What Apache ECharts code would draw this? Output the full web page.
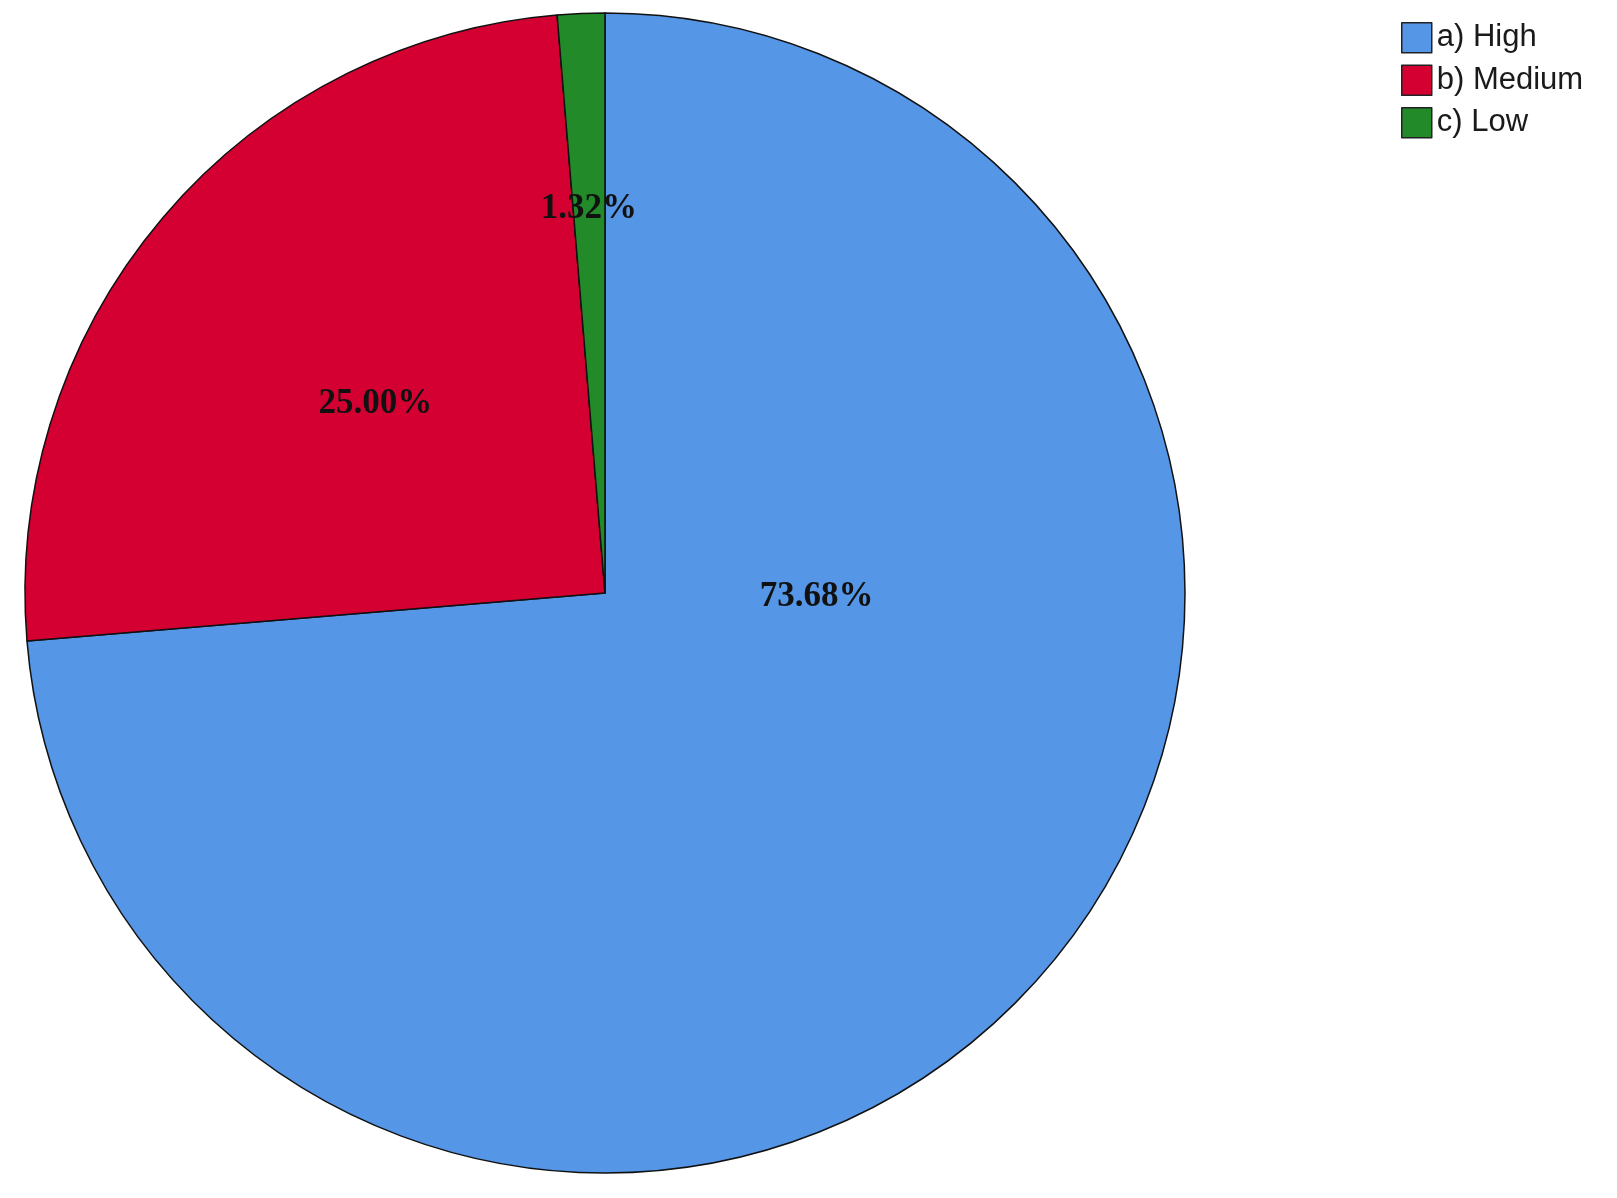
<!DOCTYPE html>
<html>
<head>
<meta charset="utf-8">
<title>Pie</title>
<script src="https://cdn.jsdelivr.net/npm/echarts@6/dist/echarts.min.js"></script>
<style>
	html, body { margin: 0; padding: 0; background: #fff; }
	#chart { width: 1617px; height: 1198px; }
</style>
</head>
<body>
<div id="chart"></div>
<script>
	const categories = ['a) High', 'b) Medium', 'c) Low']
	const values = [56, 19, 1]
	const colors = ['#5596e6', '#d40032', '#238a2a']
	// label nudges so they sit where the original tool put them
	const labelOffsets = [[-4, -194], [-6, 0], [-4, -91]]

	const total = values.reduce((a, b) => a + b, 0)

	const chart = echarts.init(document.getElementById('chart'))

	const option = {
		animation: false,
		legend: {
			orient: 'vertical',
			left: 1396,
			top: 17,
			itemWidth: 30,
			itemHeight: 30,
			itemGap: 11,
			icon: 'rect',
			itemStyle: { borderColor: '#222', borderWidth: 1.5 },
			textStyle: { fontFamily: 'Liberation Sans', fontSize: 31, color: '#1a1a1a' },
			data: categories
		},
		series: [
			{
				type: 'pie',
				center: [605, 593],
				radius: 580,
				startAngle: 90,
				clockwise: true,
				avoidLabelOverlap: false,
				itemStyle: { borderColor: '#111', borderWidth: 1.5 },
				label: {
					show: true,
					position: 'inside',
					fontFamily: 'Liberation Serif',
					fontWeight: 'bold',
					fontSize: 35,
					color: '#111',
					formatter: (p) => (p.value / total * 100).toFixed(2) + '%'
				},
				labelLine: { show: false },
				emphasis: { disabled: true },
				data: categories.map((name, i) => ({
					name: name,
					value: values[i],
					itemStyle: { color: colors[i] },
					label: { offset: labelOffsets[i] }
				}))
			}
		]
	}

	chart.setOption(option)
</script>
</body>
</html>
